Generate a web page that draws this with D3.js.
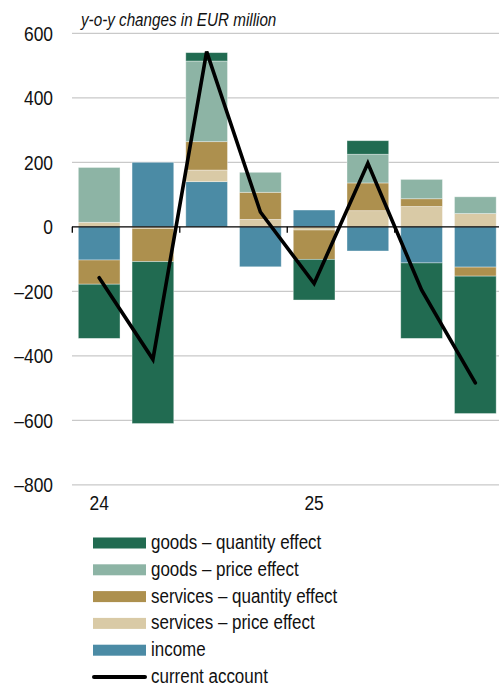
<!DOCTYPE html>
<html>
<head>
<meta charset="utf-8">
<script src="https://cdn.jsdelivr.net/npm/d3@7"></script>
<style>
  html, body { margin: 0; padding: 0; background: #fff; }
  svg { display: block; }
  text { font-family: "Liberation Sans", Arial, sans-serif; fill: #111; }
</style>
</head>
<body>
<svg id="chart" width="499" height="688"></svg>
<script>
// Quarterly y-o-y changes in the current account, EUR million
const quarters = ["24Q1", "24Q2", "24Q3", "24Q4", "25Q1", "25Q2", "25Q3", "25Q4"];
const yearLabels = [{ q: "24Q1", label: "24" }, { q: "25Q1", label: "25" }];

const goodsQuantity  = [-168, -502,  26,    0, -126,  42, -234, -426];
const goodsPrice     = [ 170,    0, 250,   62,    0,  89,   60,   52];
const servicesQty    = [ -75, -103,  88,   84,  -91,  86,   24,  -28];
const servicesPrice  = [  14,   -5,  36,   23,  -10,  50,   63,   41];
const income         = [-103,  200, 140, -124,   52, -75, -112, -125];
const currentAccount = [-158, -411, 543,   46, -176, 197, -196, -484];

const yTicks = [600, 400, 200, 0, -200, -400, -600, -800];

// series, from the zero line outward
const series = [
  { key: "income",        label: "income",                       values: income,        color: "#4b8ba5" },
  { key: "servicesPrice", label: "services \u2013 price effect",    values: servicesPrice, color: "#d9caa6" },
  { key: "servicesQty",   label: "services \u2013 quantity effect", values: servicesQty,   color: "#ad904e" },
  { key: "goodsPrice",    label: "goods \u2013 price effect",       values: goodsPrice,    color: "#8db4a5" },
  { key: "goodsQuantity", label: "goods \u2013 quantity effect",    values: goodsQuantity, color: "#216b51" }
];

const rows = quarters.map((q, i) => {
  const r = { q };
  series.forEach(s => { r[s.key] = s.values[i]; });
  return r;
});

const svg = d3.select("#chart");
const sx = 0.87; // horizontal squeeze for the narrow face

const x = d3.scaleBand()
  .domain(quarters)
  .range([72.3, 502.2])
  .paddingInner(0.224)
  .paddingOuter(0.112);

const y = d3.scaleLinear().domain([-800, 600]).range([484.8, 33.3]);

function label(g, tx, ty, str, anchor, size, italic) {
  return g.append("text")
    .attr("transform", `translate(${tx},${ty}) scale(${sx},1)`)
    .attr("text-anchor", anchor || "start")
    .style("font-size", (size || 20) + "px")
    .style("font-style", italic ? "italic" : "normal")
    .text(str);
}

// title
label(svg, 81, 26, "y-o-y changes in EUR million", "start", 17.5, true);

// gridlines
svg.append("g").selectAll("line")
  .data(yTicks.filter(d => d !== 0))
  .join("line")
  .attr("x1", 72).attr("x2", 499)
  .attr("y1", d => y(d)).attr("y2", d => y(d))
  .attr("stroke", "#c9c9c9").attr("stroke-width", 1.2);

// y axis labels
const yl = svg.append("g");
yTicks.forEach(v => {
  const s = v < 0 ? "\u2013" + Math.abs(v) : String(v);
  label(yl, 53, y(v) + 7.2, s, "end", 20);
});

// stacked bars
const stack = d3.stack()
  .keys(series.map(s => s.key))
  .order(d3.stackOrderNone)
  .offset(d3.stackOffsetDiverging);
const stacked = stack(rows);

svg.append("g").selectAll("g")
  .data(stacked)
  .join("g")
  .attr("fill", (d, i) => series[i].color)
  .selectAll("rect")
  .data(d => d.filter(p => p[1] !== p[0]))
  .join("rect")
  .attr("x", p => x(p.data.q))
  .attr("width", x.bandwidth())
  .attr("y", p => y(Math.max(p[0], p[1])))
  .attr("height", p => Math.abs(y(p[0]) - y(p[1])))
  .attr("stroke", "#ffffff")
  .attr("stroke-opacity", 0.45)
  .attr("stroke-width", 0.8);

// zero line with half-year ticks
const gap = (x.step() - x.bandwidth()) / 2;
svg.append("line")
  .attr("x1", 72).attr("x2", 499)
  .attr("y1", y(0)).attr("y2", y(0))
  .attr("stroke", "#000").attr("stroke-width", 1.3);
svg.append("g").selectAll("line")
  .data(quarters.filter((q, i) => i % 2 === 0))
  .join("line")
  .attr("x1", q => x(q) - gap).attr("x2", q => x(q) - gap)
  .attr("y1", y(0)).attr("y2", y(0) + 6)
  .attr("stroke", "#000").attr("stroke-width", 1.3);

// current account line
const line = d3.line()
  .x((d, i) => x(quarters[i]) + x.bandwidth() / 2)
  .y(d => y(d));
svg.append("path")
  .datum(currentAccount)
  .attr("d", line)
  .attr("fill", "none")
  .attr("stroke", "#000")
  .attr("stroke-width", 3.6)
  .attr("stroke-linejoin", "miter")
  .attr("stroke-linecap", "round");

// year labels
const xl = svg.append("g");
yearLabels.forEach(d => {
  label(xl, x(d.q) + x.bandwidth() / 2, 510, d.label, "middle", 20);
});

// legend
const legendItems = [
  series[4], series[3], series[2], series[1], series[0],
  { label: "current account", line: true }
];
const lg = svg.append("g");
legendItems.forEach((d, i) => {
  const cy = 543 + i * 26.8;
  if (d.line) {
    lg.append("line")
      .attr("x1", 94).attr("x2", 145)
      .attr("y1", cy).attr("y2", cy)
      .attr("stroke", "#000").attr("stroke-width", 4)
      .attr("stroke-linecap", "round");
  } else {
    lg.append("rect")
      .attr("x", 93).attr("y", cy - 5.5)
      .attr("width", 53).attr("height", 11)
      .attr("fill", d.color);
  }
  label(lg, 151, cy + 6, d.label, "start", 19.5);
});
</script>
</body>
</html>
